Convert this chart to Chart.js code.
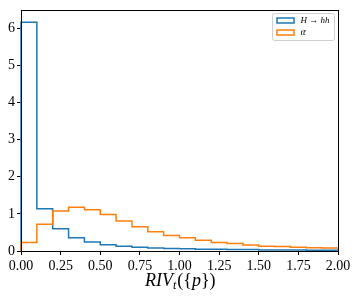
<!DOCTYPE html>
<html>
<head>
<meta charset="utf-8">
<script src="https://cdn.jsdelivr.net/npm/chart.js@4"></script>
<style>
  html, body { margin: 0; padding: 0; background: #fff; }
  #wrap { width: 359px; height: 299px; }
</style>
</head>
<body>
<div id="wrap"><canvas id="Chart" width="359" height="299"></canvas></div>
<script>
// bin edges of the histogram (20 bins of 0.1)
var binEdges = [0.0, 0.1, 0.2, 0.3, 0.4, 0.5, 0.6, 0.7, 0.8, 0.9, 1.0,
                1.1, 1.2, 1.3, 1.4, 1.5, 1.6, 1.7, 1.8, 1.9, 2.0];

// series 1: H -> hh
var hhName   = "H \u2192 hh";
var hhValues = [6.16, 1.14, 0.60, 0.36, 0.24, 0.17, 0.13, 0.10, 0.08, 0.07,
                0.06, 0.05, 0.05, 0.04, 0.04, 0.03, 0.03, 0.03, 0.02, 0.02];
var hhColor  = "#1f77b4";

// series 2: ttbar
var ttName   = "tt\u0304";
var ttValues = [0.23, 0.72, 1.08, 1.18, 1.11, 0.98, 0.81, 0.65, 0.52, 0.42,
                0.36, 0.29, 0.23, 0.20, 0.16, 0.13, 0.12, 0.10, 0.09, 0.08];
var ttColor  = "#ff7f0e";

// axes
var xTicks = [0, 0.25, 0.5, 0.75, 1.0, 1.25, 1.5, 1.75, 2.0];
var yTicks = [0, 1, 2, 3, 4, 5, 6];
var xMin = 0, xMax = 2, yMin = 0, yMax = 6.48;

// step outline like matplotlib histtype='step'
function stepPoints(values) {
  var pts = [{x: binEdges[0], y: 0}];
  for (var i = 0; i < values.length; i++) {
    pts.push({x: binEdges[i], y: values[i]});
  }
  var last = binEdges[binEdges.length - 1];
  pts.push({x: last, y: values[values.length - 1]});
  pts.push({x: last, y: 0});
  return pts;
}

var serif = "'Liberation Serif', 'DejaVu Serif', serif";

// frame, legend and axis title
var extras = {
  id: "extras",
  afterDraw: function(chart) {
    var c = chart.ctx, a = chart.chartArea;
    c.save();
    c.strokeStyle = "#000";
    c.lineWidth = 1;
    c.strokeRect(Math.round(a.left) + 0.5, Math.round(a.top) + 0.5,
                 Math.round(a.right - a.left), Math.round(a.bottom - a.top));

    // legend box
    var bx = 272.5, by = 13.5, bw = 62, bh = 27;
    c.fillStyle = "rgba(255,255,255,0.8)";
    c.strokeStyle = "#d0d0d0";
    c.beginPath();
    c.roundRect(bx, by, bw, bh, 2);
    c.fill(); c.stroke();
    var entries = [[hhColor, hhName], [ttColor, ttName]];
    c.lineWidth = 1.5;
    c.textBaseline = "middle";
    for (var i = 0; i < entries.length; i++) {
      var yy = by + 7 + i * 12;
      c.strokeStyle = entries[i][0];
      c.strokeRect(bx + 4.5, yy - 2.5, 17, 5);
      c.fillStyle = "#000";
      c.font = "italic 9px " + serif;
      c.fillText(entries[i][1], bx + 28, yy + 0.5);
    }

    // x axis title RIV_t({p})
    c.fillStyle = "#000";
    c.textBaseline = "alphabetic";
    var x = 145, base = 286;
    c.font = "italic 18px " + serif;
    c.fillText("RIV", x, base); x += c.measureText("RIV").width;
    c.font = "italic 12px " + serif;
    c.fillText("t", x, base + 3); x += c.measureText("t").width + 1;
    c.font = "18px " + serif;
    c.fillText("({", x, base); x += c.measureText("({").width;
    c.font = "italic 18px " + serif;
    c.fillText("p", x, base); x += c.measureText("p").width;
    c.font = "18px " + serif;
    c.fillText("})", x, base);
    c.restore();
  }
};

var ctx = document.getElementById("Chart").getContext("2d");
var myChart = new Chart(ctx, {
  type: "line",
  data: {
    datasets: [
      {
        label:       hhName,
        data:        stepPoints(hhValues),
        borderColor: hhColor,
        borderWidth: 1.5,
        stepped:     "before",
        pointRadius: 0,
        fill:        false,
        clip:        3,
        order:       2,
      },
      {
        label:       ttName,
        data:        stepPoints(ttValues),
        borderColor: ttColor,
        borderWidth: 1.5,
        stepped:     "before",
        pointRadius: 0,
        fill:        false,
        clip:        3,
        order:       1,
      },
    ]
  },
  options: {
    responsive: false,
    animation: false,
    events: [],
    layout: { padding: { top: 9, right: 21, left: 0, bottom: 0 } },
    plugins: { legend: { display: false }, tooltip: { enabled: false } },
    scales: {
      x: {
        type: "linear",
        min: xMin,
        max: xMax,
        afterBuildTicks: function(s) { s.ticks = xTicks.map(function(v) { return {value: v}; }); },
        afterFit: function(s) { s.height = 48; },
        grid: { drawOnChartArea: false, tickLength: 4, color: "#000", lineWidth: 1 },
        border: { display: true, color: "#000", width: 1 },
        ticks: {
          padding: 3,
          maxRotation: 0,
          autoSkip: false,
          color: "#000",
          font: { family: serif, size: 14 },
          callback: function(v) { return v.toFixed(2); }
        }
      },
      y: {
        min: yMin,
        max: yMax,
        afterBuildTicks: function(s) { s.ticks = yTicks.map(function(v) { return {value: v}; }); },
        afterFit: function(s) { s.width = 21; },
        grid: { drawOnChartArea: false, tickLength: 4, color: "#000", lineWidth: 1 },
        border: { display: true, color: "#000", width: 1 },
        ticks: {
          padding: 2,
          color: "#000",
          font: { family: serif, size: 14 },
          callback: function(v) { return String(v); }
        }
      }
    }
  },
  plugins: [extras]
});
</script>
</body>
</html>
